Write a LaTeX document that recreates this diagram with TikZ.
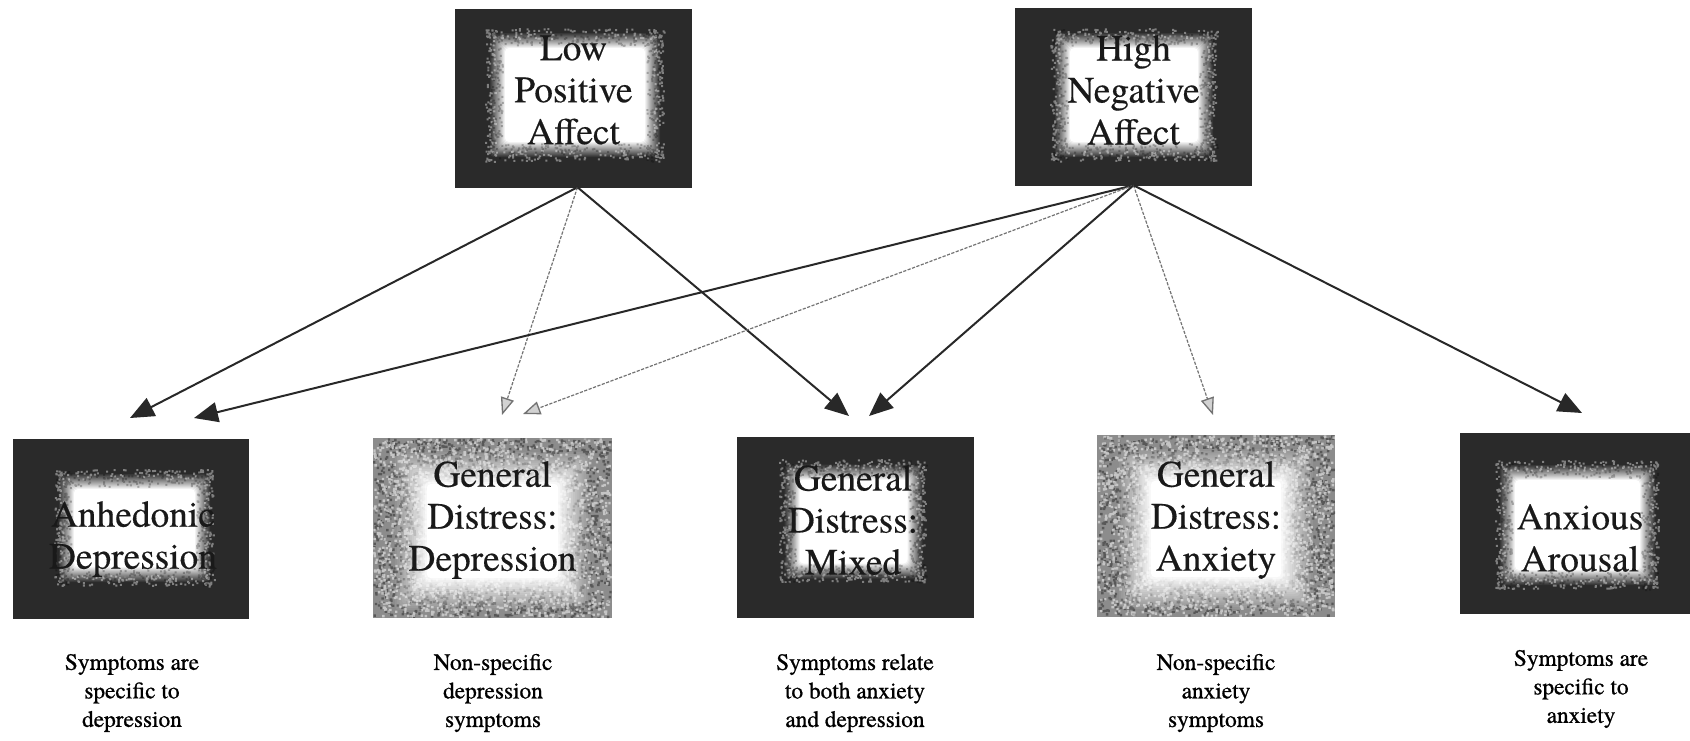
\documentclass[tikz,border=0pt]{standalone}
\usepackage{fontspec}
\IfFontExistsTF{TeX Gyre Termes}{\def\serifname{TeX Gyre Termes}}{\def\serifname{Liberation Serif}}
\setmainfont{\serifname}
\newfontfamily\labfont{\serifname}[FakeBold=0.8]
\newfontfamily\boxfont{\serifname}[FakeBold=0.4]
\usetikzlibrary{arrows.meta,calc}
\definecolor{boxdark}{RGB}{42,42,42}
\definecolor{boxgray}{RGB}{140,140,140}
\definecolor{arrowdark}{RGB}{40,40,40}
\definecolor{dashgray}{RGB}{115,115,115}
\tikzset{
  gl/.store in=\gl, gt/.store in=\gt, gr/.store in=\gr, gb/.store in=\gb,
  bw/.store in=\bw, bh/.store in=\bh, spread/.store in=\gsp,
  gl=40, gt=30, gr=40, gb=30, bw=237, bh=180, spread=16,
  glowbox/.style={rectangle, inner sep=0pt, draw=none,
    minimum width=\bw*0.75pt, minimum height=\bh*0.75pt,
    path picture={
      \foreach \k in {0,...,15}{
        \pgfmathsetmacro\ins{\k*\gsp/16}
        \pgfmathsetmacro\op{1/(16-\k)}
        \fill[white, fill opacity=\op, rounded corners=3pt]
          ($(path picture bounding box.north west)+(\gl+\ins,\gt+\ins)$) rectangle
          ($(path picture bounding box.south east)+(-\gr-\ins,-\gb-\ins)$);
      }
    }},
  darkbox/.style={glowbox, fill=boxdark},
  graybox/.style={glowbox, spread=34},
  boxtext/.style={align=center, inner sep=0pt, text=black!90,
    font=\boxfont\fontsize{28}{31.5}\selectfont},
  labtext/.style={align=center, inner sep=0pt, text=black,
    font=\labfont\fontsize{17.5}{21.4}\selectfont},
  solidarr/.style={draw=arrowdark, line width=1.5pt,
    -{Triangle[length=18pt,width=15pt,fill=arrowdark]}},
  dasharr/.style={draw=dashgray, line width=0.9pt, dash pattern=on 2.4pt off 1.1pt,
    -{Triangle[length=13pt,width=10pt,fill=gray!35,line width=1pt]}},
}
\newcommand\speckarea[4]{%
  \fill[boxgray] (#1,#2) rectangle (#3,#4);
  \fill[black!85, opacity=0.5] \foreach \i in {1,...,2000}{
    ({#1+rnd*(#3-#1-2.4)},{#2+rnd*(#4-#2-2.4)}) rectangle ++(2.4,2.4)};
  \fill[white, opacity=0.5] \foreach \i in {1,...,2000}{
    ({#1+rnd*(#3-#1-2.4)},{#2+rnd*(#4-#2-2.4)}) rectangle ++(2.4,2.4)};
}
\newcommand\noiseband[4]{%
  \fill[white, opacity=0.4] \foreach \i in {1,...,100}{
    ({#1-4+rnd*(#3-#1+8)},{#2-5+rnd*10}) rectangle ++(2,2)
    ({#1-4+rnd*(#3-#1+8)},{#4+3-rnd*10}) rectangle ++(2,2)
    ({#1-5+rnd*10},{#2-4+rnd*(#4-#2+8)}) rectangle ++(2,2)
    ({#3+3-rnd*10},{#2-4+rnd*(#4-#2+8)}) rectangle ++(2,2)};
  \fill[black, opacity=0.25] \foreach \i in {1,...,100}{
    ({#1-4+rnd*(#3-#1+8)},{#2+rnd*12}) rectangle ++(2,2)
    ({#1-4+rnd*(#3-#1+8)},{#4-2-rnd*12}) rectangle ++(2,2)
    ({#1+rnd*12},{#2-4+rnd*(#4-#2+8)}) rectangle ++(2,2)
    ({#3-2-rnd*12},{#2-4+rnd*(#4-#2+8)}) rectangle ++(2,2)};
}
\begin{document}
\pgfmathsetseed{7}
\begin{tikzpicture}[x=0.75pt,y=-0.75pt]
\useasboundingbox (0,0) rectangle (1690,740);
\fill[white] (0,0) rectangle (1690,740);

% textured backgrounds of the grey boxes
\speckarea{373}{438}{612}{618}
\speckarea{1097}{435}{1335}{617}

% top boxes
\node[darkbox, bw=237, bh=179, gl=35, gr=32, gt=24, gb=31] (lpa) at (573.5,98.5) {};
\node[darkbox, bw=237, bh=178, gl=40, gr=39, gt=25, gb=29] (hna) at (1133.5,97) {};

% bottom boxes
\node[darkbox, bw=236, bh=180, gl=46, gr=39, gt=35, gb=37] (anh) at (131,529) {};
\node[graybox, bw=239, bh=180, gl=22, gr=22, gt=14, gb=8] (gdd) at (492.5,528) {};
\node[darkbox, bw=237, bh=181, gl=48, gr=51, gt=28, gb=39] (mix) at (855,527) {};
\node[graybox, bw=238, bh=182, gl=22, gr=22, gt=14, gb=8] (gda) at (1216,526) {};
\node[darkbox, bw=230, bh=181, gl=40, gr=35, gt=32, gb=29] (aa) at (1575,523.5) {};

% noisy glow edges of the dark boxes
\noiseband{490}{33}{660}{157}
\noiseband{1055}{33}{1213}{157}
\noiseband{59}{474}{210}{582}
\noiseband{784}{464}{922}{578}
\noiseband{1500}{465}{1655}{585}

% box texts
\node[boxtext] (lpat) at (573.5,90) {Low\\Positive\\Affect};
\node[boxtext] (hnat) at (1133.5,90) {High\\Negative\\Affect};
\node[boxtext] (anht) at (133,539) {Anhedonic\\Depression};
\node[boxtext] (gddt) at (492.5,520) {General\\Distress:\\Depression};
\node[boxtext] (mixt) at (853,520) {General\\Distress:\\Mixed};
\node[boxtext] (gdat) at (1216,520) {General\\Distress:\\Anxiety};
\node[boxtext] (aat) at (1580,538) {Anxious\\Arousal};

% labels
\node[labtext] (l1) at (132,693) {Symptoms are\\specific to\\depression};
\node[labtext] (l2) at (493,693) {Non-specific\\depression\\symptoms};
\node[labtext] (l3) at (855,693) {Symptoms relate\\to both anxiety\\and depression};
\node[labtext] (l4) at (1216,693) {Non-specific\\anxiety\\symptoms};
\node[labtext] (l5) at (1581,689) {Symptoms are\\specific to\\anxiety};

% arrow tips
\coordinate (t1) at (130,418);
\coordinate (t2) at (502,415);
\coordinate (t3) at (849,416);
\coordinate (t4) at (194,418);
\coordinate (t5) at (523,414);
\coordinate (t6) at (869,416);
\coordinate (t7) at (1213,415);
\coordinate (t8) at (1582,413);
\coordinate (s1) at ($(lpa.south)+(4,-1)$);
\coordinate (s2) at ($(hna.south)+(0,-1)$);

\draw[solidarr] (s1) -- (t1);
\draw[dasharr] (s1) -- (t2);
\draw[solidarr] (s1) -- (t3);
\draw[solidarr] (s2) -- (t4);
\draw[dasharr] (s2) -- (t5);
\draw[solidarr] (s2) -- (t6);
\draw[dasharr] (s2) -- (t7);
\draw[solidarr] (s2) -- (t8);
\end{tikzpicture}
\end{document}
